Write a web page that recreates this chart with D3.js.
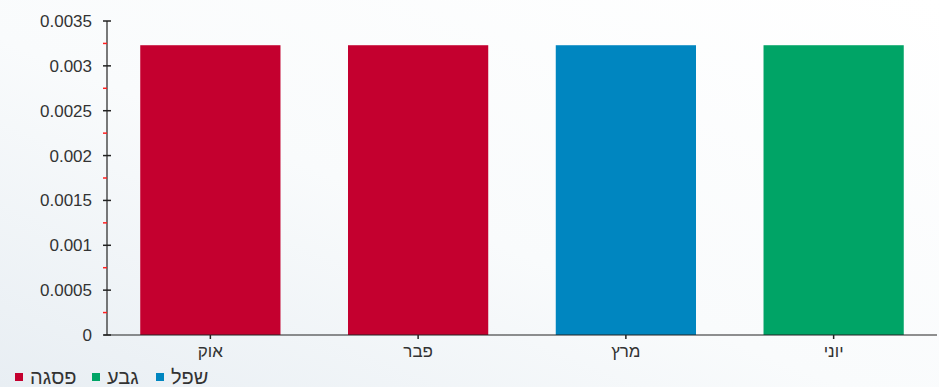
<!DOCTYPE html>
<html><head><meta charset="utf-8">
<script src="https://cdn.jsdelivr.net/npm/d3@7/dist/d3.min.js"></script>
<style>
html,body{margin:0;padding:0;}
body{width:939px;height:387px;overflow:hidden;}
svg{display:block;font-family:"Liberation Sans",Arial,sans-serif;}
</style></head>
<body>
<svg id="chart" width="939" height="387"></svg>
<script>
const categories = ["אוק", "פבר", "מרץ", "יוני"];
const values = [0.00323, 0.00323, 0.00323, 0.00323];
const barSeries = ["פסגה", "פסגה", "שפל", "גבע"];
const legendNames = ["פסגה", "גבע", "שפל"];
const legendColors = ["#c4002f", "#00a466", "#0086c0"];
const yTicks = [0, 0.0005, 0.001, 0.0015, 0.002, 0.0025, 0.003, 0.0035];
const yTickLabels = ["0", "0.0005", "0.001", "0.0015", "0.002", "0.0025", "0.003", "0.0035"];

const svg = d3.select("#chart");
const W = 939, H = 387;
const defs = svg.append("defs");
const grad = defs.append("linearGradient").attr("id","bg")
  .attr("x1","1").attr("y1","0").attr("x2","0").attr("y2","1");
grad.append("stop").attr("offset","0").attr("stop-color","#ffffff");
grad.append("stop").attr("offset","0.55").attr("stop-color","#f9fbfc");
grad.append("stop").attr("offset","1").attr("stop-color","#e8eef3");
svg.append("rect").attr("width",W).attr("height",H).attr("fill","url(#bg)");

const colorOf = d3.scaleOrdinal().domain(legendNames).range(legendColors);

const x = d3.scaleBand().domain(categories).range([107, 937]).paddingInner(0.325).paddingOuter(0.16);
const y = d3.scaleLinear().domain([0, 0.0035]).range([335, 21]);

// bars
svg.append("g").selectAll("rect").data(categories).join("rect")
  .attr("x", d => x(d))
  .attr("y", (d,i) => y(values[i]))
  .attr("width", x.bandwidth())
  .attr("height", (d,i) => y(0) - y(values[i]))
  .attr("fill", (d,i) => colorOf(barSeries[i]));

// y axis
const gy = svg.append("g").attr("transform","translate(107,0)");
gy.append("line").attr("x1",0).attr("x2",0).attr("y1",y(0.0035)).attr("y2",y(0)).attr("stroke","#222").attr("stroke-width",1.2);
const minor = d3.range(0, yTicks.length-1).map(i => (yTicks[i]+yTicks[i+1])/2);
gy.selectAll("line.minor").data(minor).join("line").attr("class","minor")
  .attr("x1",-4).attr("x2",0).attr("y1",d=>y(d)).attr("y2",d=>y(d))
  .attr("stroke","#ff2020").attr("stroke-width",1.5);
gy.selectAll("line.major").data(yTicks).join("line").attr("class","major")
  .attr("x1",-4).attr("x2",4).attr("y1",d=>y(d)).attr("y2",d=>y(d))
  .attr("stroke","#222").attr("stroke-width",1.5);
gy.selectAll("text").data(yTicks).join("text")
  .attr("x",-15).attr("y",d=>y(d)).attr("dy","0.35em")
  .attr("text-anchor","end").attr("font-size",17).attr("fill","#333")
  .text((d,i)=>yTickLabels[i]);

// x axis
const gx = svg.append("g").attr("transform","translate(0,335)");
gx.append("line").attr("x1",104).attr("x2",937).attr("y1",0).attr("y2",0).attr("stroke","#222").attr("stroke-width",1.2);
gx.selectAll("line.t").data(categories).join("line").attr("class","t")
  .attr("x1",d=>x(d)+x.bandwidth()/2).attr("x2",d=>x(d)+x.bandwidth()/2)
  .attr("y1",0).attr("y2",4).attr("stroke","#222").attr("stroke-width",1.5);
gx.selectAll("text").data(categories).join("text")
  .attr("x",d=>x(d)+x.bandwidth()/2).attr("y",22)
  .attr("text-anchor","middle").attr("font-size",17).attr("fill","#333")
  .text(d=>d);

// legend
const legendX = [15, 92, 156];
const lg = svg.append("g").attr("transform","translate(0,377)");
const items = lg.selectAll("g").data(legendNames).join("g")
  .attr("transform",(d,i)=>`translate(${legendX[i]},0)`);
items.append("rect").attr("x",0).attr("y",-4).attr("width",8).attr("height",8)
  .attr("fill",(d,i)=>legendColors[i]);
items.append("text").attr("x",15).attr("y",0).attr("dy","0.35em")
  .attr("font-size",20).attr("fill","#333").attr("text-anchor","start").text(d=>d);
</script>
</body></html>
